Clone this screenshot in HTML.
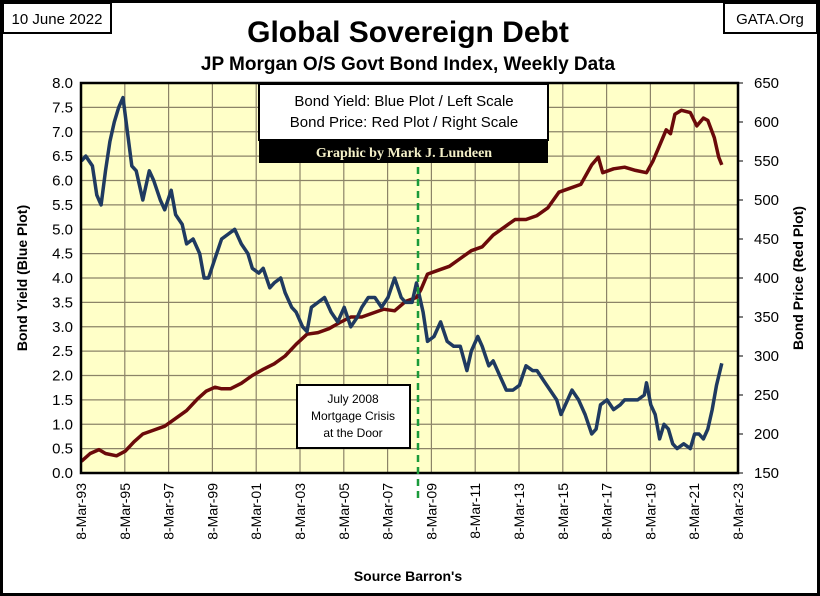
<!DOCTYPE html>
<html><head><meta charset="utf-8"><style>
body{margin:0;background:#fff}
svg{display:block;font-family:"Liberation Sans",sans-serif}
</style></head><body>
<svg id="c" width="820" height="596" viewBox="0 0 820 596">
<rect x="1.5" y="1.5" width="817" height="593" fill="#fff" stroke="#000" stroke-width="3"/>
<rect x="3" y="3" width="108" height="30" fill="#fff" stroke="#000" stroke-width="2"/>
<text x="57" y="24" font-size="15" text-anchor="middle">10 June 2022</text>
<rect x="724" y="3" width="93" height="30" fill="#fff" stroke="#000" stroke-width="2"/>
<text x="770" y="24" font-size="15" text-anchor="middle">GATA.Org</text>
<text x="408" y="42" font-size="30" font-weight="bold" text-anchor="middle">Global Sovereign Debt</text>
<text x="408" y="70" font-size="19" font-weight="bold" text-anchor="middle">JP Morgan O/S Govt Bond Index, Weekly Data</text>
<rect x="81" y="83" width="657" height="390" fill="#ffffc8"/>
<g id="grid"></g>
<g id="axes"></g>
<g id="series"></g>
<rect x="81" y="83" width="657" height="390" fill="none" stroke="#000" stroke-width="2.5"/>
<line x1="418" y1="83" x2="418" y2="500" stroke="#1a9a3a" stroke-width="2.5" stroke-dasharray="7,5"/>
<rect x="259" y="84" width="289" height="56" fill="#fff" stroke="#000" stroke-width="2"/>
<text x="404" y="106" font-size="15" text-anchor="middle">Bond Yield: Blue Plot / Left Scale</text>
<text x="404" y="127" font-size="15" text-anchor="middle">Bond Price: Red Plot / Right Scale</text>
<rect x="259" y="140" width="289" height="23" fill="#000"/>
<text x="404" y="157" font-size="14" font-weight="bold" fill="#f4f0c8" text-anchor="middle" font-family="Liberation Serif,serif">Graphic by Mark J. Lundeen</text>
<rect x="297" y="385" width="113" height="63" fill="#fff" stroke="#000" stroke-width="2"/>
<text x="353" y="403" font-size="12" text-anchor="middle">July 2008</text>
<text x="353" y="420" font-size="12" text-anchor="middle">Mortgage Crisis</text>
<text x="353" y="437" font-size="12" text-anchor="middle">at the Door</text>
<text transform="translate(27,278) rotate(-90)" font-size="14" font-weight="bold" text-anchor="middle">Bond  Yield   (Blue Plot)</text>
<text transform="translate(803,278) rotate(-90)" font-size="14" font-weight="bold" text-anchor="middle">Bond  Price   (Red Plot)</text>
<text x="408" y="581" font-size="14" font-weight="bold" text-anchor="middle">Source Barron's</text>
</svg>
<script>
const xTickLabels=["8-Mar-93","8-Mar-95","8-Mar-97","8-Mar-99","8-Mar-01","8-Mar-03","8-Mar-05","8-Mar-07","8-Mar-09","8-Mar-11","8-Mar-13","8-Mar-15","8-Mar-17","8-Mar-19","8-Mar-21","8-Mar-23"];
const leftTicks=[0,0.5,1,1.5,2,2.5,3,3.5,4,4.5,5,5.5,6,6.5,7,7.5,8];
const rightTicks=[150,200,250,300,350,400,450,500,550,600,650];
const yieldDates=[1993.2,1993.4,1993.7,1993.9,1994.1,1994.3,1994.5,1994.7,1994.9,1995.1,1995.3,1995.5,1995.7,1996.0,1996.3,1996.5,1996.8,1997.0,1997.3,1997.5,1997.8,1998.0,1998.3,1998.6,1998.8,1999.0,1999.3,1999.6,1999.9,2000.2,2000.5,2000.8,2001.0,2001.3,2001.5,2001.8,2002.0,2002.3,2002.5,2002.8,2003.0,2003.3,2003.5,2003.7,2004.0,2004.3,2004.6,2004.9,2005.2,2005.5,2005.8,2006.0,2006.3,2006.6,2006.9,2007.2,2007.5,2007.8,2008.0,2008.3,2008.5,2008.8,2009.0,2009.3,2009.6,2009.9,2010.2,2010.5,2010.8,2011.0,2011.3,2011.5,2011.8,2012.0,2012.3,2012.6,2012.9,2013.2,2013.5,2013.8,2014.0,2014.3,2014.6,2014.9,2015.1,2015.4,2015.6,2015.9,2016.2,2016.5,2016.7,2016.9,2017.2,2017.5,2017.8,2018.0,2018.3,2018.6,2018.9,2019.0,2019.2,2019.4,2019.6,2019.8,2020.0,2020.2,2020.4,2020.7,2021.0,2021.2,2021.4,2021.6,2021.8,2022.0,2022.2,2022.44];
const yieldValues=[6.4,6.5,6.3,5.7,5.5,6.2,6.8,7.2,7.5,7.7,7.0,6.3,6.2,5.6,6.2,6.0,5.6,5.4,5.8,5.3,5.1,4.7,4.8,4.5,4.0,4.0,4.4,4.8,4.9,5.0,4.7,4.5,4.2,4.1,4.2,3.8,3.9,4.0,3.7,3.4,3.3,3.0,2.9,3.4,3.5,3.6,3.3,3.1,3.4,3.0,3.2,3.4,3.6,3.6,3.4,3.6,4.0,3.6,3.5,3.5,3.9,3.3,2.7,2.8,3.1,2.7,2.6,2.6,2.1,2.5,2.8,2.6,2.2,2.3,2.0,1.7,1.7,1.8,2.2,2.1,2.1,1.9,1.7,1.5,1.2,1.5,1.7,1.5,1.2,0.8,0.9,1.4,1.5,1.3,1.4,1.5,1.5,1.5,1.6,1.85,1.4,1.2,0.7,1.0,0.9,0.6,0.5,0.6,0.5,0.8,0.8,0.7,0.9,1.3,1.8,2.25];
const priceDates=[1993.2,1993.6,1994.0,1994.3,1994.8,1995.2,1995.6,1996.0,1996.5,1997.0,1997.5,1998.0,1998.5,1998.9,1999.3,1999.6,2000.0,2000.5,2001.0,2001.5,2002.0,2002.5,2003.0,2003.5,2004.0,2004.5,2005.0,2005.5,2006.0,2006.5,2007.0,2007.5,2008.0,2008.5,2008.7,2009.0,2009.5,2010.0,2010.5,2011.0,2011.5,2012.0,2012.5,2013.0,2013.5,2014.0,2014.5,2015.0,2015.5,2016.0,2016.5,2016.8,2017.0,2017.5,2018.0,2018.5,2019.0,2019.3,2019.6,2019.9,2020.1,2020.3,2020.6,2021.0,2021.3,2021.6,2021.8,2022.1,2022.3,2022.44];
const priceValues=[165,175,180,175,172,178,190,200,205,210,220,230,245,255,260,258,258,265,275,283,290,300,315,328,330,335,343,350,350,355,360,358,370,375,385,405,410,415,425,435,440,455,465,475,475,480,490,510,515,520,545,555,535,540,542,538,535,550,570,590,585,610,615,612,595,605,602,580,555,545];
const NS="http://www.w3.org/2000/svg";
const L=81,R=738,T=83,B=473;
const x0=1993.18,x1=2023.18;
function xs(d){return L+(d-x0)/(x1-x0)*(R-L);}
function yl(v){return B-v/8*(B-T);}
function yr(v){return B-(v-150)/500*(B-T);}
function mk(tag,attrs,parent){const e=document.createElementNS(NS,tag);for(const k in attrs)e.setAttribute(k,attrs[k]);parent.appendChild(e);return e;}
const grid=document.getElementById('grid'),axes=document.getElementById('axes'),series=document.getElementById('series');
xTickLabels.forEach((lab,i)=>{
  const x=L+i*(R-L)/(xTickLabels.length-1);
  if(i>0&&i<xTickLabels.length-1){const g=mk('line',{x1:x,y1:T,x2:x,y2:B,stroke:'#8c8468','stroke-width':1.2},grid);
  
  }
  const t=mk('text',{transform:`translate(${x+5},${B+10}) rotate(-90)`,'font-size':14,'text-anchor':'end'},axes);
  t.textContent=lab;
  
  
});
leftTicks.forEach(v=>{
  const y=yl(v);
  if(v>0&&v<8){const g=mk('line',{x1:L,y1:y,x2:R,y2:y,stroke:'#8c8468','stroke-width':1.2},grid);
  
  }
  const t=mk('text',{x:L-8,y:y+5,'font-size':15,'text-anchor':'end'},axes);
  t.textContent=v.toFixed(1);
  
  
});
rightTicks.forEach(v=>{
  const y=yr(v);
  mk('line',{x1:R,y1:y,x2:R+5,y2:y,stroke:'#000','stroke-width':1},axes);
  const t=mk('text',{x:R+16,y:y+5,'font-size':15},axes);
  t.textContent=v;
  
  
});
const pp=priceDates.map((d,i)=>xs(d).toFixed(1)+','+yr(priceValues[i]).toFixed(1)).join(' ');
const pl=mk('polyline',{points:pp,fill:'none',stroke:'#6b0a0a','stroke-width':3.5,'stroke-linejoin':'round'},series);


const yp=yieldDates.map((d,i)=>xs(d).toFixed(1)+','+yl(yieldValues[i]).toFixed(1)).join(' ');
const yline=mk('polyline',{points:yp,fill:'none',stroke:'#1f3a60','stroke-width':3.5,'stroke-linejoin':'round'},series);


</script>
</body></html>
